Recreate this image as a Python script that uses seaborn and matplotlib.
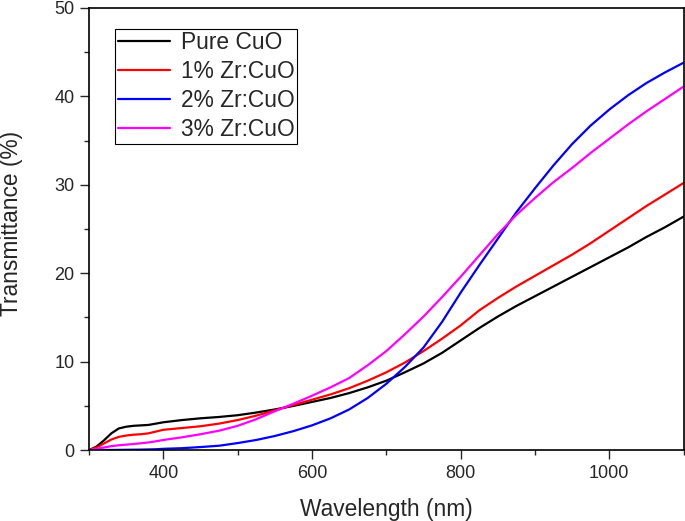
import numpy as np
import pandas as pd
import seaborn as sns
import matplotlib.pyplot as plt
from matplotlib.ticker import MultipleLocator

# Wavelength grid (nm)
wavelength = [300, 310, 320, 330, 340, 350, 360, 370, 380, 390, 400,
              425, 450, 475, 500, 525, 550, 575, 600, 625, 650, 675, 700,
              725, 750, 775, 800, 825, 850, 875, 900, 925, 950, 975, 1000,
              1025, 1050, 1075, 1100]

# Transmittance (%) per sample
pure_cuo = [0.0, 0.4, 1.1, 1.9, 2.45, 2.65, 2.75, 2.8, 2.85, 3.0, 3.15,
            3.4, 3.6, 3.75, 3.95, 4.25, 4.6, 5.0, 5.45, 5.9, 6.45, 7.1, 7.85,
            8.8, 9.8, 11.0, 12.4, 13.8, 15.1, 16.3, 17.4, 18.5, 19.6, 20.7, 21.8,
            22.9, 24.1, 25.2, 26.4]
zr1 = [0.0, 0.3, 0.75, 1.2, 1.5, 1.65, 1.75, 1.8, 1.9, 2.1, 2.3,
       2.5, 2.7, 3.0, 3.4, 3.9, 4.5, 5.1, 5.7, 6.3, 7.0, 7.85, 8.8,
       9.9, 11.2, 12.6, 14.1, 15.8, 17.2, 18.5, 19.7, 20.9, 22.1, 23.4, 24.8,
       26.2, 27.6, 28.9, 30.2]
zr2 = [0.0, 0.0, 0.02, 0.02, 0.03, 0.04, 0.05, 0.06, 0.08, 0.1, 0.15,
       0.22, 0.35, 0.5, 0.8, 1.15, 1.6, 2.15, 2.8, 3.6, 4.6, 5.9, 7.5,
       9.4, 11.6, 14.5, 17.8, 20.9, 23.9, 26.9, 29.6, 32.2, 34.6, 36.7, 38.5,
       40.1, 41.5, 42.7, 43.8]
zr3 = [0.0, 0.15, 0.3, 0.45, 0.55, 0.62, 0.7, 0.78, 0.87, 1.0, 1.15,
       1.45, 1.8, 2.2, 2.75, 3.5, 4.4, 5.25, 6.15, 7.1, 8.15, 9.6, 11.2,
       13.1, 15.1, 17.3, 19.6, 22.0, 24.4, 26.6, 28.5, 30.3, 31.9, 33.6, 35.2,
       36.8, 38.3, 39.7, 41.1]

labels = ['Pure CuO', '1% Zr:CuO', '2% Zr:CuO', '3% Zr:CuO']
colors = ['black', '#ff0000', '#0000ff', '#ff00ff']

frames = []
for name, vals in zip(labels, [pure_cuo, zr1, zr2, zr3]):
    frames.append(pd.DataFrame({'Wavelength': wavelength, 'T': vals, 'Sample': name}))
data = pd.concat(frames, ignore_index=True)

sns.set_style('ticks')
plt.rcParams['font.family'] = ['Liberation Sans', 'DejaVu Sans']

fig = plt.figure(figsize=(6.85, 5.21), dpi=100)
ax = fig.add_axes([0.13, 0.136, 0.868, 0.849])

sns.lineplot(data=data, x='Wavelength', y='T', hue='Sample', hue_order=labels,
             palette=colors, linewidth=1.6, ax=ax)

ax.set_xlim(300, 1100)
ax.set_ylim(0, 50)
ax.xaxis.set_minor_locator(MultipleLocator(100))
ax.yaxis.set_major_locator(MultipleLocator(10))
ax.yaxis.set_minor_locator(MultipleLocator(5))
ax.set_xticks([400, 600, 800, 1000])
ax.tick_params(which='major', direction='out', length=6.5, width=1.0, labelsize=13, pad=4)
ax.tick_params(which='minor', direction='out', length=3.5, width=1.0)
for s in ax.spines.values():
    s.set_visible(True)
    s.set_linewidth(1.2)
    s.set_color('black')

ax.set_xlabel('Wavelength (nm)', fontsize=16.4, labelpad=12)
ax.set_ylabel('Transmittance (%)', fontsize=16.4)
ax.yaxis.set_label_coords(-0.111, 0.513)

ax.legend(loc='upper left', bbox_to_anchor=(0.044, 0.953), fontsize=16.4,
          frameon=True, fancybox=False, edgecolor='black', framealpha=1,
          handlelength=2.3, labelspacing=0.26, borderpad=0.12, handletextpad=0.45,
          borderaxespad=0)
ax.get_legend().get_frame().set_linewidth(0.8)

fig.savefig('out.png', dpi=100)
